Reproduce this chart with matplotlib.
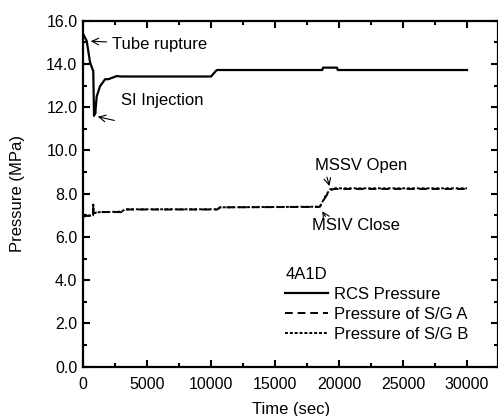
import matplotlib
matplotlib.use("Agg")
import matplotlib.pyplot as plt
from matplotlib.ticker import MultipleLocator

plt.rcParams['font.family'] = ['Liberation Sans', 'DejaVu Sans']
plt.rcParams['font.size'] = 12

# RCS pressure (MPa) vs time (sec)
rcs_t = [0, 290, 550, 800, 860, 900, 950, 1070, 1330, 1720, 2000, 2630, 3000,
         10000, 10450, 18700, 18750, 19850, 19900, 30000]
rcs_p = [15.4, 15.06, 14.07, 13.67, 11.6, 12.1, 11.7, 12.5, 12.97, 13.29, 13.3,
         13.44, 13.42, 13.42, 13.72, 13.72, 13.83, 13.83, 13.72, 13.72]

# steam generator A
sga_t = [0, 700, 790, 800, 810, 1000, 1300, 3000, 3300, 10500, 10700,
         18500, 18700, 19000, 19300, 19600, 30000]
sga_p = [6.95, 7.0, 7.0, 7.5, 7.1, 7.12, 7.15, 7.15, 7.27, 7.27, 7.37,
         7.39, 7.6, 7.9, 8.15, 8.22, 8.22]

# steam generator B
sgb_t = [0, 700, 790, 800, 810, 1000, 1300, 3000, 3300, 10500, 10700,
         18500, 18700, 19000, 19300, 19600, 30000]
sgb_p = [6.95, 7.0, 7.0, 7.5, 7.1, 7.12, 7.15, 7.17, 7.28, 7.28, 7.37,
         7.4, 7.62, 7.95, 8.2, 8.25, 8.25]

fig = plt.figure(figsize=(4.98, 4.16), dpi=100)
ax = fig.add_axes([0.1667, 0.1185, 0.834, 0.8317])

ax.plot(rcs_t, rcs_p, color='black', lw=1.6, label='RCS Pressure')
ax.plot(sga_t, sga_p, color='black', lw=1.4, ls=(0, (4, 2.5)), label='Pressure of S/G A')
ax.plot(sgb_t, sgb_p, color='black', lw=1.4, ls=(0, (1.5, 1)), label='Pressure of S/G B')

ax.set_xlim(0, 32450)
ax.set_ylim(0, 16)
ax.xaxis.set_major_locator(MultipleLocator(5000))
ax.xaxis.set_minor_locator(MultipleLocator(2500))
ax.yaxis.set_major_locator(MultipleLocator(2))
ax.yaxis.set_minor_locator(MultipleLocator(1))
ax.yaxis.set_major_formatter(matplotlib.ticker.FormatStrFormatter('%.1f'))
ax.tick_params(which='both', direction='in', top=True, right=True, width=1.5,
               labelsize=11.5)
ax.tick_params(which='major', length=5)
ax.tick_params(which='minor', length=3)
ax.tick_params(axis='x', which='major', pad=7.5)
ax.tick_params(axis='y', which='major', pad=4)
for s in ax.spines.values():
    s.set_linewidth(1.6)

ax.set_xlabel('Time (sec)', labelpad=7)
ax.set_ylabel('Pressure (MPa)', labelpad=15)

arrow = dict(arrowstyle='->', color='black', lw=0.8)
ax.annotate('Tube rupture', xy=(390, 15.06), xytext=(2270, 14.9),
            va='center', arrowprops=arrow)
ax.annotate('SI Injection', xy=(940, 11.59), xytext=(2950, 12.31),
            va='center')
ax.annotate('', xy=(940, 11.59), xytext=(2660, 11.36), arrowprops=arrow)
ax.annotate('MSSV Open', xy=(19310, 8.23), xytext=(18140, 9.32),
            va='center')
ax.annotate('', xy=(19310, 8.23), xytext=(19000, 8.89), arrowprops=arrow)
ax.annotate('MSIV Close', xy=(18580, 7.3), xytext=(17880, 6.53),
            va='center')
ax.annotate('', xy=(18580, 7.3), xytext=(19050, 6.84), arrowprops=arrow)

leg = ax.legend(title='4A1D', loc='lower left', bbox_to_anchor=(0.467, 0.048),
                frameon=False, borderpad=0, handlelength=2.55, handletextpad=0.35,
                labelspacing=0.3, fontsize=12, title_fontsize=12)
leg._legend_box.align = 'left'

fig.savefig('out.png', dpi=100)
